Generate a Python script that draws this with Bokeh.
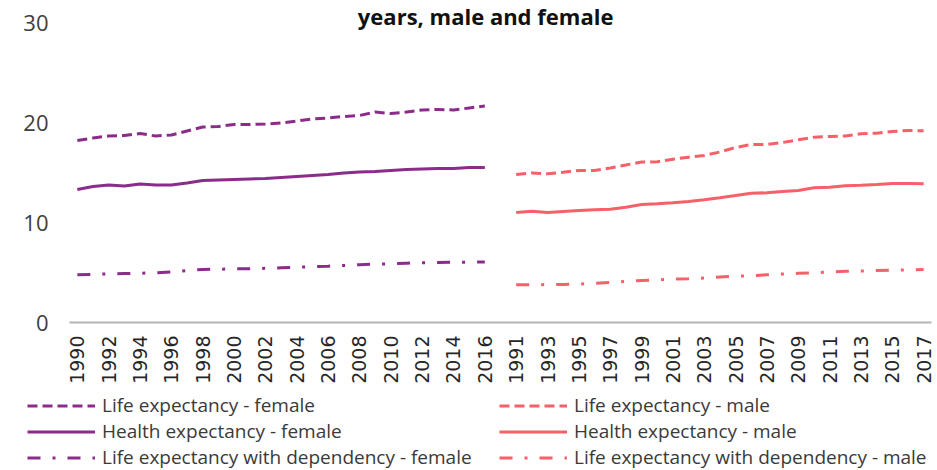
from bokeh.plotting import figure
from bokeh.models import Range1d, FixedTicker, Legend, LegendItem, Label
from bokeh.embed import file_html
from bokeh.resources import INLINE
import math

# ---- data ----
female_years = [str(y) for y in range(1990, 2017)]
male_years = [str(y) for y in range(1991, 2018)]

life_female = [18.2, 18.45, 18.65, 18.7, 18.9, 18.65, 18.75, 19.15, 19.55, 19.6, 19.8, 19.8, 19.85,
               19.95, 20.15, 20.35, 20.45, 20.6, 20.7, 21.05, 20.9, 21.05, 21.25, 21.3, 21.25, 21.45, 21.65]
health_female = [13.3, 13.6, 13.75, 13.65, 13.85, 13.75, 13.75, 13.95, 14.2, 14.25, 14.3, 14.35, 14.4,
                 14.5, 14.6, 14.7, 14.8, 14.95, 15.05, 15.1, 15.2, 15.3, 15.35, 15.4, 15.4, 15.5, 15.5]
dep_female = [4.77, 4.82, 4.87, 4.9, 4.93, 4.97, 5.05, 5.2, 5.3, 5.33, 5.36, 5.38, 5.42, 5.47,
              5.52, 5.58, 5.63, 5.7, 5.78, 5.83, 5.88, 5.93, 5.97, 6.0, 6.03, 6.04, 6.05]

life_male = [14.8, 14.95, 14.87, 15.03, 15.2, 15.2, 15.45, 15.75, 16.05, 16.07, 16.33, 16.53, 16.7,
             17.05, 17.5, 17.8, 17.8, 18.0, 18.27, 18.53, 18.6, 18.65, 18.87, 18.93, 19.1, 19.2, 19.17]
health_male = [11.0, 11.13, 11.0, 11.1, 11.2, 11.27, 11.33, 11.53, 11.8, 11.87, 11.97, 12.1, 12.27,
               12.48, 12.7, 12.93, 12.97, 13.1, 13.2, 13.47, 13.53, 13.67, 13.73, 13.8, 13.9, 13.9, 13.87]
dep_male = [3.77, 3.78, 3.79, 3.8, 3.85, 3.92, 4.0, 4.1, 4.2, 4.27, 4.33, 4.37, 4.45, 4.55,
            4.62, 4.68, 4.77, 4.85, 4.92, 4.97, 5.05, 5.12, 5.15, 5.2, 5.23, 5.27, 5.3]

y_ticks = [0, 10, 20, 30]
title_text = "years, male and female"

labels_female = ["Life expectancy - female", "Health expectancy - female",
                 "Life expectancy with dependency - female"]
labels_male = ["Life expectancy - male", "Health expectancy - male",
               "Life expectancy with dependency - male"]

# categories: female block, one empty slot, male block
categories = female_years + [""] + male_years
xf = list(range(len(female_years)))
xm = list(range(len(female_years) + 1, len(categories)))

FEMALE = "#8B2C8B"
MALE = "#F66068"
FONT = "Open Sans"
DASH = "10 5"
DASHDOT = "13 12 3 12"

# ---- layout (pixels) ----
W, H = 937, 470
PLOT_L, PLOT_R = 69, 931          # category axis extent
PX_PER_UNIT, ZERO_Y = 10.0, 322
n = len(categories)
cat_px = (PLOT_R - PLOT_L) / n
x_lo = -0.5 - PLOT_L / cat_px
x_hi = n - 0.5 + (W - PLOT_R) / cat_px
y_lo = -(H - ZERO_Y) / PX_PER_UNIT
y_hi = ZERO_Y / PX_PER_UNIT

p = figure(width=W, height=H, output_backend="svg", toolbar_location=None,
           x_range=Range1d(x_lo, x_hi), y_range=Range1d(y_lo, y_hi), min_border=0)
p.outline_line_color = None
p.grid.visible = False

r_lf = p.line(xf, life_female, color=FEMALE, line_width=3, line_dash=DASH)
r_hf = p.line(xf, health_female, color=FEMALE, line_width=3)
r_df = p.line(xf, dep_female, color=FEMALE, line_width=3, line_dash=DASHDOT)
r_lm = p.line(xm, life_male, color=MALE, line_width=3, line_dash=DASH)
r_hm = p.line(xm, health_male, color=MALE, line_width=3)
r_dm = p.line(xm, dep_male, color=MALE, line_width=3, line_dash=DASHDOT)

# x axis, drawn at y = 0
xa = p.xaxis[0]
tick_idx = [i for i in range(0, n, 2)]
xa.fixed_location = 0
xa.bounds = (-0.5, n - 0.5)
xa.ticker = FixedTicker(ticks=tick_idx)
xa.major_label_overrides = {i: categories[i] for i in tick_idx}
xa.major_label_orientation = math.pi / 2
xa.major_label_text_font = "DejaVu Sans"
xa.major_label_text_font_size = "19px"
xa.major_label_text_color = "#262626"
xa.major_label_standoff = 13
xa.major_tick_line_color = None
xa.minor_tick_line_color = None
xa.major_tick_out = 0
xa.major_tick_in = 0
xa.axis_line_color = "#B4B4B4"
xa.axis_line_width = 2

# y axis, drawn at the left edge of the category axis
ya = p.yaxis[0]
ya.fixed_location = -0.5
ya.ticker = FixedTicker(ticks=y_ticks)
ya.axis_line_color = None
ya.major_tick_line_color = None
ya.minor_tick_line_color = None
ya.major_tick_out = 0
ya.major_tick_in = 0
ya.major_label_standoff = 21
ya.major_label_text_font = FONT
ya.major_label_text_font_size = "22px"
ya.major_label_text_color = "#404040"

# title (top line of the chart)
p.add_layout(Label(x=26.05, y=30.7, text=title_text, text_align="center",
                   text_baseline="alphabetic", text_font=FONT, text_font_style="bold",
                   text_font_size="22px", text_color="#111111"))

def make_legend(labels, rends, x):
    lg = Legend(items=[LegendItem(label=l, renderers=[r]) for l, r in zip(labels, rends)],
                location=(x, 0), orientation="vertical",
                glyph_width=68, glyph_height=25, label_height=25, label_standoff=7,
                spacing=0, padding=0, margin=0, border_line_color=None,
                background_fill_alpha=0, label_text_font=FONT,
                label_text_font_size="19px", label_text_color="#3A3A3A")
    p.add_layout(lg, "center")

make_legend(labels_female, [r_lf, r_hf, r_df], 27)
make_legend(labels_male, [r_lm, r_hm, r_dm], 499)

open("out.html", "w").write(file_html(p, INLINE))
